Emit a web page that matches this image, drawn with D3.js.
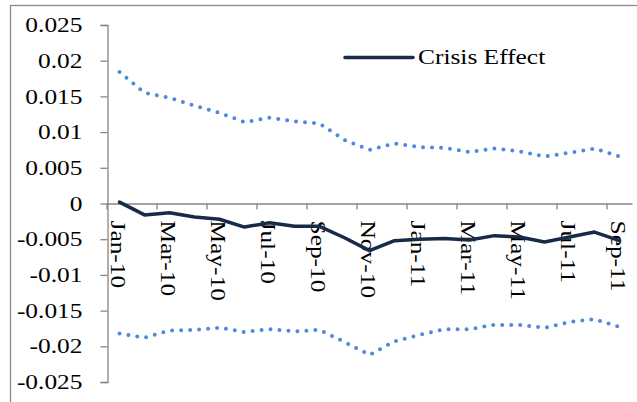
<!DOCTYPE html>
<html>
<head>
<meta charset="utf-8">
<script src="https://cdn.jsdelivr.net/npm/d3@7"></script>
<style>
  html, body { margin: 0; padding: 0; background: #fff; }
  svg { display: block; }
</style>
</head>
<body>
<script>
// ---- data ----
const categories = ["Jan-10","Feb-10","Mar-10","Apr-10","May-10","Jun-10","Jul-10","Aug-10","Sep-10","Oct-10","Nov-10","Dec-10",
                    "Jan-11","Feb-11","Mar-11","Apr-11","May-11","Jun-11","Jul-11","Aug-11","Sep-11"];
const crisisEffect = [0.0002,-0.0016,-0.0013,-0.0019,-0.0022,-0.0033,-0.0027,-0.0032,-0.0032,-0.0048,-0.0066,
                      -0.0052,-0.0050,-0.0049,-0.0051,-0.0045,-0.0047,-0.0054,-0.0047,-0.0040,-0.0052];
const upperBound = [0.0184,0.0155,0.0148,0.0137,0.0127,0.0114,0.0120,0.0115,0.0112,0.0089,0.0075,
                    0.0084,0.0079,0.0078,0.0072,0.0077,0.0073,0.0066,0.0071,0.0077,0.0066];
const lowerBound = [-0.0182,-0.0188,-0.0178,-0.0177,-0.0174,-0.0180,-0.0176,-0.0179,-0.0177,-0.0194,-0.0212,
                    -0.0193,-0.0184,-0.0176,-0.0176,-0.0170,-0.0170,-0.0174,-0.0166,-0.0162,-0.0173];
const yTickValues = [0.025,0.02,0.015,0.01,0.005,0,-0.005,-0.01,-0.015,-0.02,-0.025];
const yTickLabels = ["0.025","0.02","0.015","0.01","0.005","0","-0.005","-0.01","-0.015","-0.02","-0.025"];
const xTickLabels = categories.filter((d, i) => i % 2 === 0);
const legendLabel = "Crisis Effect";

// ---- layout ----
const W = 637, H = 402;
const FONT = "'Liberation Serif', 'Times New Roman', serif";
const FS = 20, SX = 1.27;
const axisColor = "#868686";
const navy = "#172a48";
const blue = "#4f88dc";

const svg = d3.select("body").append("svg").attr("width", W).attr("height", H);
svg.append("rect").attr("width", W).attr("height", H).attr("fill", "#fff");

// chart frame
svg.append("rect").attr("x", 10.5).attr("y", 5.5).attr("width", 700).attr("height", 500)
  .attr("fill", "none").attr("stroke", "#8a8a8a").attr("stroke-width", 1.3);

const x = d3.scaleBand().domain(categories).range([107, 632]).padding(0);
const y = d3.scaleLinear().domain([-0.025, 0.025]).range([382, 25]);
const cx = d => x(d) + x.bandwidth() / 2;

// y axis
const yAxis = svg.append("g").attr("transform", "translate(107.5,0)")
  .call(d3.axisLeft(y).tickValues(yTickValues).tickSize(7).tickSizeOuter(7)
        .tickFormat((d, i) => yTickLabels[i]));
yAxis.select(".domain").attr("stroke", axisColor).attr("stroke-width", 1.3);
yAxis.selectAll(".tick line").attr("stroke", axisColor).attr("stroke-width", 1.3);
yAxis.selectAll(".tick text")
  .attr("x", -25 / SX).attr("dy", "0.33em")
  .attr("transform", `scale(${SX},1)`)
  .attr("fill", "#000").style("font-family", FONT).style("font-size", FS + "px");

// x axis
const xAxis = svg.append("g").attr("transform", `translate(0,${y(0)})`)
  .call(d3.axisBottom(x).tickValues(xTickLabels).tickSize(6).tickSizeOuter(0));
xAxis.select(".domain").attr("stroke", axisColor).attr("stroke-width", 1.3);
xAxis.selectAll(".tick line").attr("stroke", axisColor).attr("stroke-width", 1.3)
  .attr("x1", -x.bandwidth() / 2).attr("x2", -x.bandwidth() / 2);
xAxis.selectAll(".tick text")
  .attr("x", 0).attr("y", 0).attr("dy", null)
  .attr("text-anchor", "start").attr("dominant-baseline", "central")
  .attr("transform", `translate(-1.5,17) rotate(90) scale(${SX},1)`)
  .attr("fill", "#000").style("font-family", FONT).style("font-size", FS + "px");

// series
const line = d3.line().x((d, i) => cx(categories[i])).y(d => y(d));

svg.append("path").datum(upperBound).attr("d", line)
  .attr("fill", "none").attr("stroke", blue).attr("stroke-width", 4)
  .attr("stroke-linecap", "round").attr("stroke-dasharray", "0 9");
svg.append("path").datum(lowerBound).attr("d", line)
  .attr("fill", "none").attr("stroke", blue).attr("stroke-width", 4)
  .attr("stroke-linecap", "round").attr("stroke-dasharray", "0 9");
svg.append("path").datum(crisisEffect).attr("d", line)
  .attr("fill", "none").attr("stroke", navy).attr("stroke-width", 3.5)
  .attr("stroke-linejoin", "round").attr("stroke-linecap", "round");

// legend
const lg = svg.append("g").attr("transform", "translate(345,57.5)");
lg.append("line").attr("x1", 0).attr("x2", 68).attr("y1", 0).attr("y2", 0)
  .attr("stroke", navy).attr("stroke-width", 3.5).attr("stroke-linecap", "round");
lg.append("text").attr("x", 73 / SX).attr("y", 0).attr("dy", "0.33em")
  .attr("transform", `scale(${SX},1)`)
  .attr("fill", "#000").style("font-family", FONT).style("font-size", FS + "px")
  .text(legendLabel);
</script>
</body>
</html>
